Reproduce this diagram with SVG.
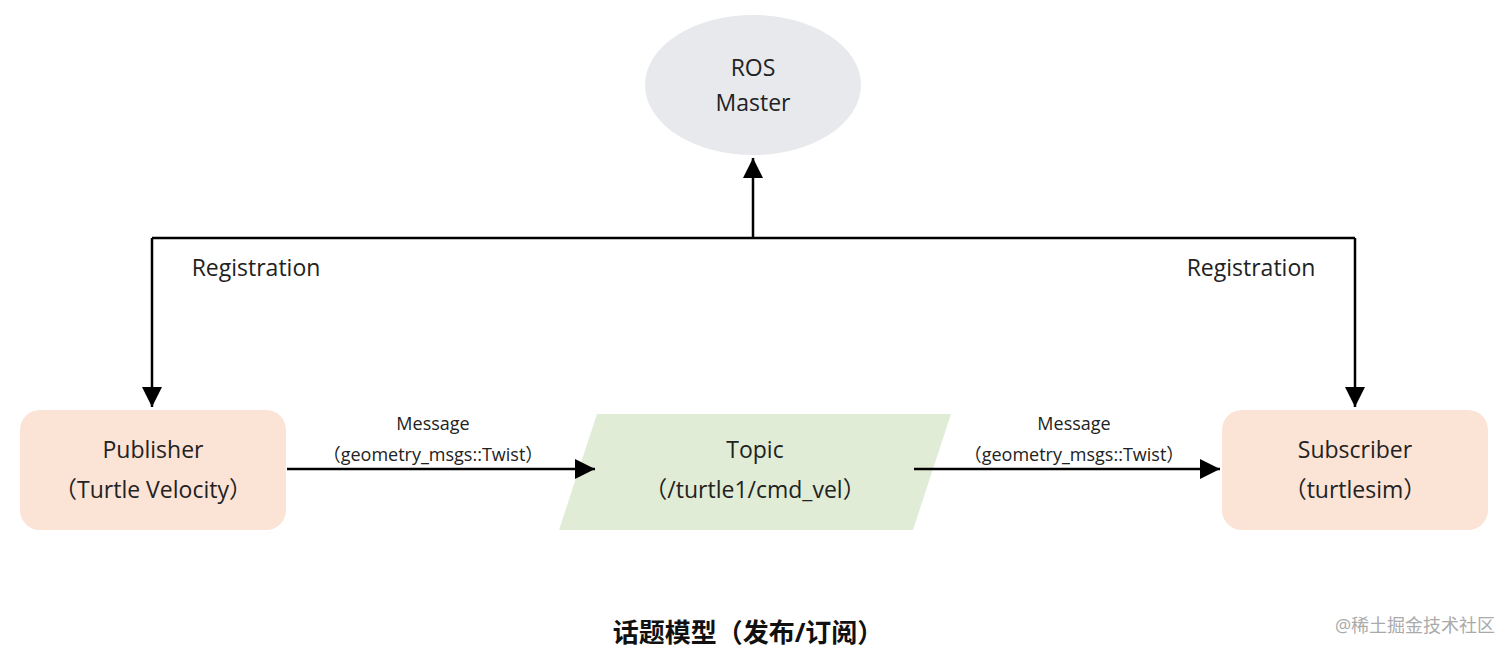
<svg xmlns="http://www.w3.org/2000/svg" width="1512" height="654" viewBox="0 0 1512 654">
<style>
text{font-family:"Open Sans","Noto Sans CJK SC",sans-serif;fill:#222;text-anchor:middle}
.n{font-size:23px}.l{font-size:18px}.r{font-size:23px}
.c{stroke:#000;stroke-width:2.5;fill:none}
</style>
<defs><marker id="a" viewBox="0 0 10 10" refX="10" refY="5" markerWidth="8" markerHeight="8" markerUnits="userSpaceOnUse" orient="auto"><path d="M0,0L10,5L0,10z" fill="#000"/></marker>
<marker id="b" viewBox="0 0 10 10" refX="10" refY="5" markerWidth="20" markerHeight="20" markerUnits="userSpaceOnUse" orient="auto"><path d="M0,0L10,5L0,10z" fill="#000"/></marker></defs>
<rect width="1512" height="654" fill="#fff"/>
<g id="master"><ellipse cx="753" cy="85" rx="108" ry="70" fill="#e8e9ec"/><text class="n" x="753" y="76">ROS</text><text class="n" x="753" y="111">Master</text></g>
<g id="publisher"><rect x="20" y="410" width="266" height="120" rx="20" fill="#fbe3d6"/><text class="n" x="153" y="458">Publisher</text><text class="n" x="153" y="498">（Turtle Velocity）</text></g>
<g id="topic"><polygon points="597,414 951,414 913,530 559,530" fill="#e0ecd6"/><text class="n" x="755" y="458">Topic</text><text class="n" x="755" y="498">（/turtle1/cmd_vel）</text></g>
<g id="subscriber"><rect x="1222" y="410" width="266" height="120" rx="20" fill="#fbe3d6"/><text class="n" x="1355" y="458">Subscriber</text><text class="n" x="1355" y="498">（turtlesim）</text></g>
<g id="connectors">
<path class="c" d="M753,238V158" marker-end="url(#b)"/>
<path class="c" d="M152,238H1355"/>
<path class="c" d="M152,238V407" marker-end="url(#b)"/>
<path class="c" d="M1355,238V407" marker-end="url(#b)"/>
<path class="c" d="M287,469H595" marker-end="url(#b)"/>
<path class="c" d="M914,469H1220" marker-end="url(#b)"/>
<text class="r" x="256" y="276">Registration</text>
<text class="r" x="1251" y="276">Registration</text>
<text class="l" x="433" y="430">Message</text><text class="l" x="433" y="461">（geometry_msgs::Twist）</text>
<text class="l" x="1074" y="430">Message</text><text class="l" x="1074" y="461">（geometry_msgs::Twist）</text>
</g>
<text x="748" y="642" style="font-size:26px;font-weight:bold;fill:#111">话题模型（发布/订阅）</text>
<text x="1415" y="632" style="font-size:18px;fill:#aaa">@稀土掘金技术社区</text>
</svg>
